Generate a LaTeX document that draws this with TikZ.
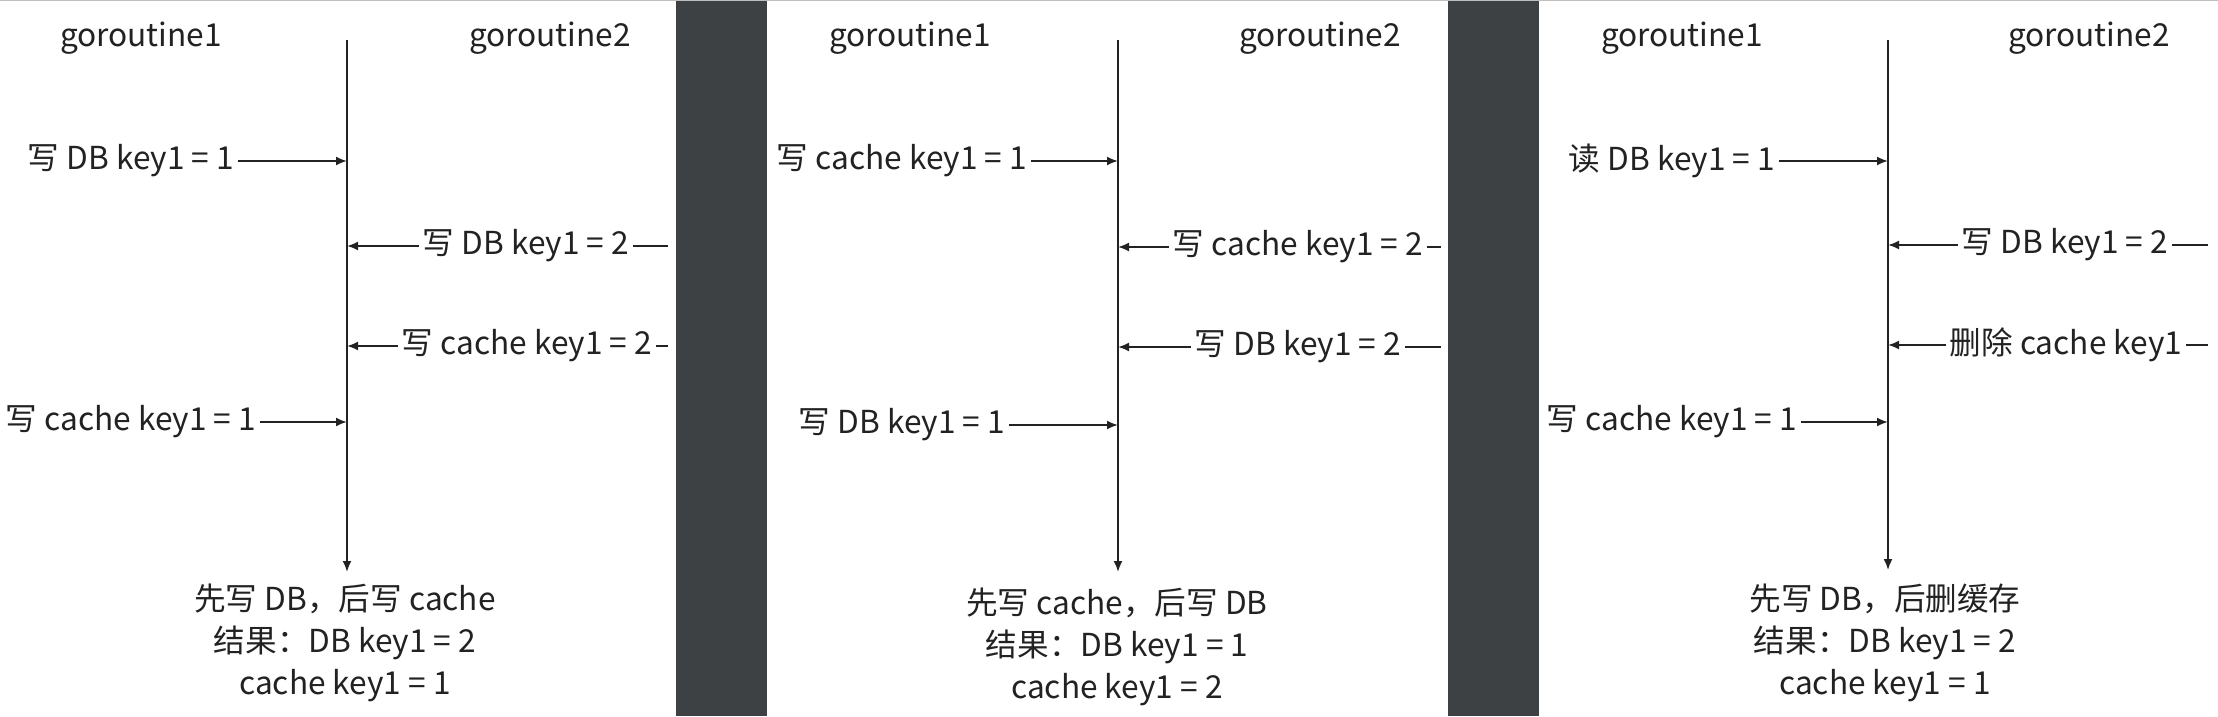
\documentclass[tikz,border=0pt]{standalone}
\usepackage{fontspec}
\setmainfont{Noto Sans CJK SC}
\usetikzlibrary{arrows.meta}

\definecolor{band}{RGB}{62,65,67}
\definecolor{ink}{RGB}{34,34,34}

\tikzset{
  lbl/.style={text=ink, font=\fontsize{9}{12}\selectfont, inner sep=1pt},
  res/.style={lbl, align=center},
  msg/.style={draw=ink, line width=0.55pt, -{Latex[length=1.1mm,width=0.9mm]}},
  seg/.style={draw=ink, line width=0.55pt},
}

\begin{document}
\begin{tikzpicture}
  \useasboundingbox (0,0) rectangle (22.18,-7.16);

  % background and the two dark bands
  \fill[white] (0,0) rectangle (22.18,-7.16);
  \fill[band] (6.76,0) rectangle (7.67,-7.16);
  \fill[band] (14.48,0) rectangle (15.39,-7.16);
  \fill[gray!50] (0,0) rectangle (22.18,-0.015);

  % panel 1: write DB, then write cache
  \begin{scope}
    \node[lbl] (a-g1) at (1.41,-0.38) {goroutine1};
    \node[lbl] (a-g2) at (5.50,-0.38) {goroutine2};
    \coordinate (a-top) at (3.47,-0.40);
    \coordinate (a-bot) at (3.47,-5.72);
    \draw[msg] (a-top) -- (a-bot);

    \node[lbl] (a-m1) at (1.31,-1.61) {写 DB key1 = 1};
    \node[lbl] (a-m2) at (5.26,-2.46) {写 DB key1 = 2};
    \node[lbl] (a-m3) at (5.27,-3.46) {写 cache key1 = 2};
    \node[lbl] (a-m4) at (1.31,-4.22) {写 cache key1 = 1};
    \coordinate (a-e2) at (6.68,-2.46);
    \coordinate (a-e3) at (6.68,-3.46);

    \draw[msg] (a-m1) -- (a-m1 -| a-top);
    \draw[seg] (a-e2) -- (a-m2);
    \draw[msg] (a-m2) -- (a-m2 -| a-top);
    \draw[seg] (a-e3) -- (a-m3);
    \draw[msg] (a-m3) -- (a-m3 -| a-top);
    \draw[msg] (a-m4) -- (a-m4 -| a-top);

    \node[res] (a-res) at (3.45,-6.43) {先写 DB，后写 cache\\结果：DB key1 = 2\\cache key1 = 1};
  \end{scope}

  % panel 2: write cache, then write DB
  \begin{scope}[xshift=7.71cm]
    \node[lbl] (b-g1) at (1.39,-0.38) {goroutine1};
    \node[lbl] (b-g2) at (5.49,-0.38) {goroutine2};
    \coordinate (b-top) at (3.47,-0.40);
    \coordinate (b-bot) at (3.47,-5.72);
    \draw[msg] (b-top) -- (b-bot);

    \node[lbl] (b-m1) at (1.31,-1.61) {写 cache key1 = 1};
    \node[lbl] (b-m2) at (5.27,-2.47) {写 cache key1 = 2};
    \node[lbl] (b-m3) at (5.27,-3.47) {写 DB key1 = 2};
    \node[lbl] (b-m4) at (1.31,-4.25) {写 DB key1 = 1};
    \coordinate (b-e2) at (6.70,-2.47);
    \coordinate (b-e3) at (6.70,-3.47);

    \draw[msg] (b-m1) -- (b-m1 -| b-top);
    \draw[seg] (b-e2) -- (b-m2);
    \draw[msg] (b-m2) -- (b-m2 -| b-top);
    \draw[seg] (b-e3) -- (b-m3);
    \draw[msg] (b-m3) -- (b-m3 -| b-top);
    \draw[msg] (b-m4) -- (b-m4 -| b-top);

    \node[res] (b-res) at (3.46,-6.47) {先写 cache，后写 DB\\结果：DB key1 = 1\\cache key1 = 2};
  \end{scope}

  % panel 3: write DB, then delete cache
  \begin{scope}[xshift=15.41cm]
    \node[lbl] (c-g1) at (1.41,-0.38) {goroutine1};
    \node[lbl] (c-g2) at (5.48,-0.38) {goroutine2};
    \coordinate (c-top) at (3.47,-0.40);
    \coordinate (c-bot) at (3.47,-5.70);
    \draw[msg] (c-top) -- (c-bot);

    \node[lbl] (c-m1) at (1.31,-1.61) {读 DB key1 = 1};
    \node[lbl] (c-m2) at (5.24,-2.45) {写 DB key1 = 2};
    \node[lbl] (c-m3) at (5.25,-3.45) {删除 cache key1};
    \node[lbl] (c-m4) at (1.31,-4.22) {写 cache key1 = 1};
    \coordinate (c-e2) at (6.67,-2.45);
    \coordinate (c-e3) at (6.67,-3.45);

    \draw[msg] (c-m1) -- (c-m1 -| c-top);
    \draw[seg] (c-e2) -- (c-m2);
    \draw[msg] (c-m2) -- (c-m2 -| c-top);
    \draw[seg] (c-e3) -- (c-m3);
    \draw[msg] (c-m3) -- (c-m3 -| c-top);
    \draw[msg] (c-m4) -- (c-m4 -| c-top);

    \node[res] (c-res) at (3.44,-6.43) {先写 DB，后删缓存\\结果：DB key1 = 2\\cache key1 = 1};
  \end{scope}
\end{tikzpicture}
\end{document}
